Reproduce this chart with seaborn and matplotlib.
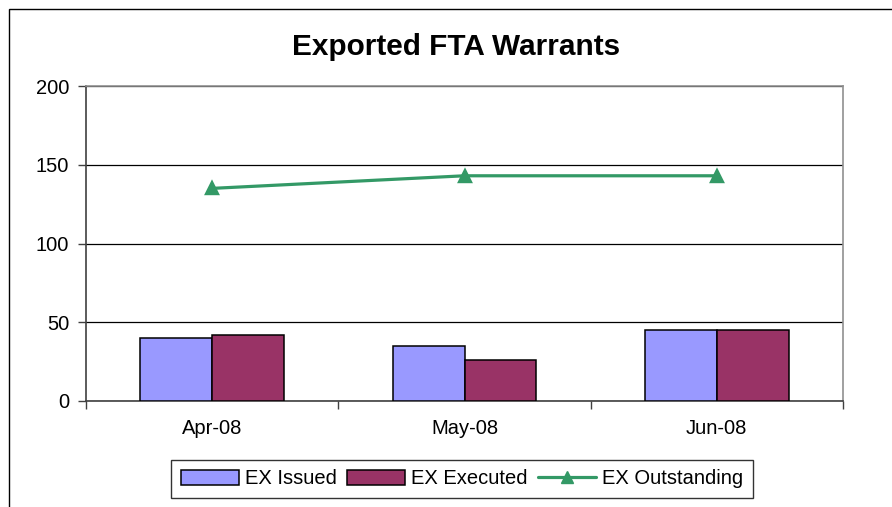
import matplotlib
matplotlib.use("Agg")
import matplotlib.pyplot as plt
import matplotlib.patches as mpatches
from matplotlib.lines import Line2D
from matplotlib.ticker import FixedLocator
import seaborn as sns
import pandas as pd

# chart values
months = ["Apr-08", "May-08", "Jun-08"]
ex_issued = [40, 35, 45]
ex_executed = [42, 26, 45]
ex_outstanding = [135, 143, 143]

series_names = ["EX Issued", "EX Executed", "EX Outstanding"]
colors = ["#9999FF", "#993366", "#339966"]

bars = pd.DataFrame({
    "month": months * 2,
    "value": ex_issued + ex_executed,
    "series": [series_names[0]] * 3 + [series_names[1]] * 3,
})
line = pd.DataFrame({"month": months, "value": ex_outstanding})

sns.set_style("white")
plt.rcParams["font.family"] = ["Liberation Sans", "DejaVu Sans"]
plt.rcParams["text.color"] = "black"
plt.rcParams["xtick.color"] = "black"
plt.rcParams["ytick.color"] = "black"
plt.rcParams["xtick.labelcolor"] = "black"
plt.rcParams["ytick.labelcolor"] = "black"

fig = plt.figure(figsize=(8.92, 5.07), dpi=100)
ax = fig.add_axes([86 / 892, 1 - 401 / 507, (843 - 86) / 892, (401 - 86) / 507])

sns.barplot(data=bars, x="month", y="value", hue="series", palette=colors[:2],
            width=0.57, gap=0, edgecolor="black", linewidth=1.1, saturation=1,
            errorbar=None, legend=False, ax=ax, zorder=3)
sns.pointplot(data=line, x="month", y="value", color=colors[2], markers="^",
              markersize=8, linewidth=2.3, errorbar=None, ax=ax)
for coll in ax.collections:
    coll.set_zorder(4)
for ln in ax.lines:
    ln.set_zorder(4)

ax.set_xlim(-0.5, 2.5)
ax.set_ylim(0, 200)
ax.set_yticks([0, 50, 100, 150, 200])
ax.set_xlabel("")
ax.set_ylabel("")

# gridlines
ax.yaxis.grid(True, color="black", linewidth=0.9)
ax.xaxis.grid(False)
ax.set_axisbelow(True)

for side in ["left", "bottom"]:
    ax.spines[side].set_color("#404040")
    ax.spines[side].set_linewidth(1.2)
for side in ["top", "right"]:
    ax.spines[side].set_visible(True)
    ax.spines[side].set_color("#909090")
    ax.spines[side].set_linewidth(1.2)

ax.tick_params(axis="y", which="major", direction="out", length=6, width=1,
               color="#404040", pad=6, labelsize=14.5, left=True, labelcolor="black")
ax.tick_params(axis="x", which="major", length=0, pad=13, labelsize=14.5, labelcolor="black")
ax.xaxis.set_minor_locator(FixedLocator([-0.5, 0.5, 1.5, 2.5]))
ax.tick_params(axis="x", which="minor", direction="out", length=6, width=1,
               color="#404040", bottom=True)

fig.text(456 / 892, 1 - 47 / 507, "Exported FTA Warrants", ha="center", va="center",
         fontsize=21.4, fontweight="bold", color="black")

handles = [
    mpatches.Patch(facecolor=colors[0], edgecolor="black", linewidth=1.1, label=series_names[0]),
    mpatches.Patch(facecolor=colors[1], edgecolor="black", linewidth=1.1, label=series_names[1]),
    Line2D([], [], color=colors[2], linewidth=2.3, marker="^", markersize=8, label=series_names[2]),
]
leg = fig.legend(handles=handles, loc="center", bbox_to_anchor=(462 / 892, 1 - 479 / 507),
                 ncol=3, fontsize=14.5, frameon=True, fancybox=False, handlelength=2.9,
                 handleheight=0.8, handletextpad=0.3, columnspacing=0.5,
                 borderpad=0.45, borderaxespad=0)
leg.get_frame().set_edgecolor("black")
leg.get_frame().set_linewidth(1)
for t in leg.get_texts():
    t.set_color("black")

# outer chart border (cropped on right and bottom)
fig.patches.append(mpatches.Rectangle((9 / 892, -1), 2, 2 - 9 / 507, transform=fig.transFigure,
                                      fill=False, edgecolor="black", linewidth=1))

fig.savefig("out.png", dpi=100)
